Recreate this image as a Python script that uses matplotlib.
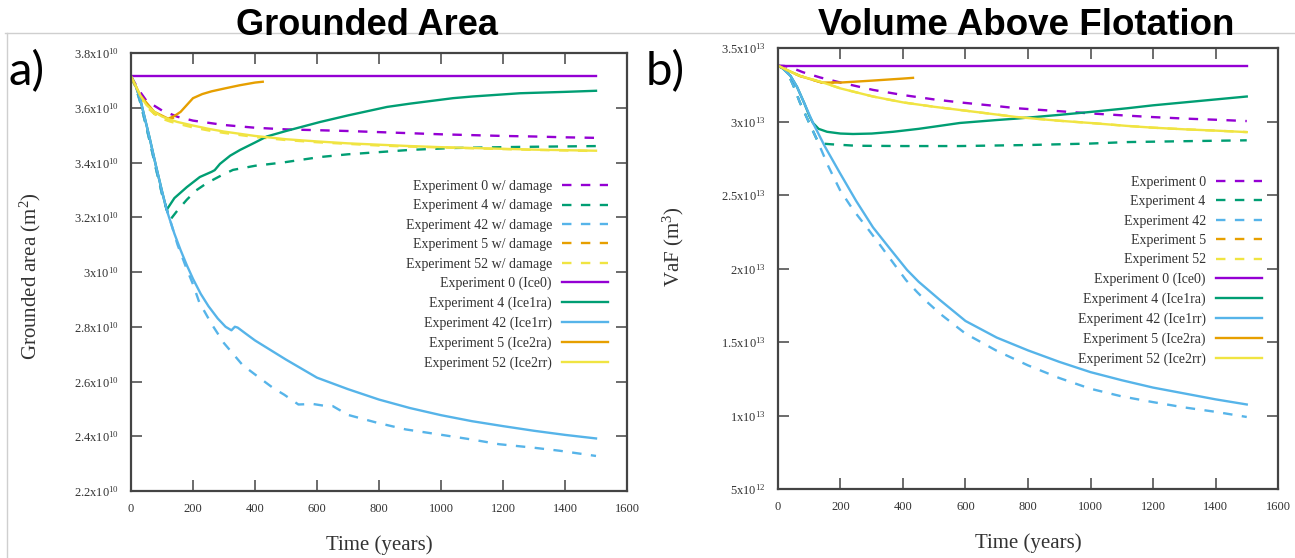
import matplotlib
matplotlib.use("Agg")
import matplotlib.pyplot as plt
from matplotlib.lines import Line2D

plt.rcParams['mathtext.fontset'] = 'custom'
plt.rcParams['mathtext.rm'] = 'Liberation Serif'
plt.rcParams['mathtext.it'] = 'Liberation Serif:italic'

# colours (gnuplot default set)
PURPLE = '#9400d3'
GREEN = '#009e73'
BLUE = '#56b4e9'
ORANGE = '#e69f00'
YELLOW = '#f0e442'

# ---------------- panel a: grounded area (x 1e10 m^2) ----------------
a_t_exp0 = [0, 1500]
a_v_exp0 = [3.715, 3.715]

a_t_exp0_dmg = [0, 25, 50, 100, 150, 200, 300, 400, 500, 600, 700, 800, 900, 1000, 1100, 1200, 1300, 1400, 1500]
a_v_exp0_dmg = [3.715, 3.665, 3.625, 3.59, 3.567, 3.553, 3.537, 3.527, 3.521, 3.518, 3.515, 3.511, 3.507, 3.503, 3.500, 3.497, 3.495, 3.492, 3.49]

a_t_exp52 = [0, 15, 30, 50, 75, 100, 125, 150, 200, 250, 300, 400, 500, 600, 700, 800, 900, 1000, 1100, 1200, 1300, 1400, 1500]
a_v_exp52 = [3.715, 3.68, 3.645, 3.61, 3.585, 3.568, 3.557, 3.548, 3.535, 3.523, 3.513, 3.497, 3.485, 3.477, 3.47, 3.465, 3.46, 3.456, 3.453, 3.45, 3.447, 3.445, 3.443]
a_v_exp52_dmg = [3.715, 3.675, 3.64, 3.603, 3.578, 3.56, 3.55, 3.542, 3.528, 3.517, 3.508, 3.493, 3.482, 3.474, 3.468, 3.462, 3.458, 3.455, 3.452, 3.449, 3.446, 3.444, 3.442]

a_t_exp5 = [0, 30, 75, 120, 140, 160, 180, 200, 230, 260, 300, 350, 400, 425]
a_v_exp5 = [3.715, 3.645, 3.585, 3.56, 3.57, 3.585, 3.61, 3.635, 3.65, 3.66, 3.67, 3.682, 3.692, 3.695]
a_t_exp5_dmg = [0, 30, 75, 120, 140, 160]
a_v_exp5_dmg = [3.715, 3.64, 3.578, 3.555, 3.565, 3.578]

a_t_exp4 = [0, 15, 30, 45, 60, 80, 100, 115, 140, 180, 222, 260, 270, 287, 320, 352, 400, 438, 500, 610, 700, 826, 900, 1039, 1100, 1255, 1400, 1500]
a_v_exp4 = [3.715, 3.68, 3.63, 3.56, 3.49, 3.39, 3.295, 3.227, 3.27, 3.31, 3.347, 3.366, 3.372, 3.395, 3.425, 3.446, 3.473, 3.495, 3.515, 3.548, 3.572, 3.603, 3.615, 3.635, 3.641, 3.653, 3.658, 3.662]
a_t_exp4_dmg = [0, 15, 30, 45, 60, 80, 100, 126, 150, 180, 210, 245, 290, 329, 400, 490, 610, 700, 826, 900, 1039, 1255, 1500]
a_v_exp4_dmg = [3.715, 3.675, 3.62, 3.55, 3.48, 3.38, 3.285, 3.19, 3.225, 3.264, 3.298, 3.325, 3.352, 3.373, 3.388, 3.40, 3.42, 3.43, 3.44, 3.446, 3.453, 3.457, 3.46]

a_t_exp42 = [0, 15, 30, 45, 60, 80, 100, 115, 140, 160, 180, 200, 225, 250, 280, 305, 324, 335, 344, 370, 400, 450, 500, 600, 700, 800, 900, 1000, 1100, 1200, 1300, 1400, 1500]
a_v_exp42 = [3.715, 3.68, 3.63, 3.56, 3.49, 3.39, 3.295, 3.227, 3.14, 3.08, 3.025, 2.975, 2.92, 2.875, 2.83, 2.80, 2.787, 2.80, 2.797, 2.775, 2.75, 2.715, 2.68, 2.614, 2.572, 2.534, 2.503, 2.477, 2.455, 2.437, 2.42, 2.405, 2.392]
a_t_exp42_dmg = [0, 15, 30, 45, 60, 80, 100, 126, 150, 180, 200, 220, 260, 300, 324, 360, 416, 460, 494, 540, 586, 620, 651, 700, 795, 886, 991, 1100, 1187, 1300, 1383, 1500]
a_v_exp42_dmg = [3.715, 3.675, 3.62, 3.55, 3.48, 3.38, 3.285, 3.19, 3.10, 3.01, 2.955, 2.89, 2.81, 2.74, 2.708, 2.66, 2.612, 2.575, 2.552, 2.516, 2.518, 2.512, 2.51, 2.478, 2.449, 2.425, 2.407, 2.388, 2.371, 2.358, 2.347, 2.328]

a_yticks = [2.2, 2.4, 2.6, 2.8, 3.0, 3.2, 3.4, 3.6, 3.8]
a_yticklabels = ['2.2x10$^{10}$', '2.4x10$^{10}$', '2.6x10$^{10}$', '2.8x10$^{10}$', '3x10$^{10}$',
                 '3.2x10$^{10}$', '3.4x10$^{10}$', '3.6x10$^{10}$', '3.8x10$^{10}$']

# ---------------- panel b: volume above flotation (x 1e13 m^3) ----------------
b_t_exp0 = [0, 1500]
b_v_exp0 = [3.38, 3.38]
b_t_exp0_dmg = [0, 20, 38, 80, 134, 200, 304, 400, 500, 582, 700, 765, 900, 1000, 1117, 1200, 1300, 1400, 1500]
b_v_exp0_dmg = [3.38, 3.378, 3.37, 3.335, 3.30, 3.265, 3.215, 3.18, 3.15, 3.13, 3.105, 3.09, 3.07, 3.055, 3.04, 3.03, 3.02, 3.012, 3.003]

b_t_exp52 = [0, 29, 70, 144, 200, 304, 400, 500, 614, 765, 900, 1000, 1117, 1200, 1300, 1400, 1500]
b_v_exp52 = [3.38, 3.35, 3.31, 3.265, 3.225, 3.17, 3.13, 3.10, 3.07, 3.03, 3.005, 2.99, 2.97, 2.958, 2.947, 2.938, 2.928]
b_v_exp52_dmg = [3.38, 3.35, 3.31, 3.265, 3.225, 3.17, 3.13, 3.10, 3.07, 3.03, 3.005, 2.99, 2.97, 2.958, 2.947, 2.938, 2.928]

b_t_exp5 = [0, 29, 70, 140, 200, 240, 300, 350, 400, 432]
b_v_exp5 = [3.38, 3.35, 3.31, 3.265, 3.265, 3.27, 3.278, 3.285, 3.292, 3.297]
b_t_exp5_dmg = [0, 29, 70, 140, 180]
b_v_exp5_dmg = [3.38, 3.35, 3.31, 3.265, 3.265]

b_t_exp42 = [0, 16, 40, 61, 85, 112, 150, 198, 250, 304, 360, 413, 450, 518, 600, 700, 800, 900, 1000, 1100, 1200, 1300, 1400, 1500]
b_v_exp42 = [3.38, 3.36, 3.31, 3.235, 3.12, 2.99, 2.83, 2.65, 2.46, 2.28, 2.13, 1.99, 1.91, 1.786, 1.643, 1.53, 1.443, 1.365, 1.295, 1.24, 1.19, 1.15, 1.11, 1.075]
b_t_exp42_dmg = [0, 15, 29, 50, 70, 100, 125, 160, 198, 240, 284, 330, 368, 410, 445, 473, 520, 600, 700, 800, 900, 1000, 1100, 1200, 1300, 1400, 1500]
b_v_exp42_dmg = [3.38, 3.365, 3.34, 3.24, 3.13, 2.99, 2.875, 2.70, 2.535, 2.40, 2.28, 2.15, 2.04, 1.92, 1.84, 1.78, 1.69, 1.557, 1.44, 1.341, 1.255, 1.182, 1.13, 1.091, 1.055, 1.025, 0.99]

b_t_exp4 = [0, 16, 40, 61, 85, 100, 112, 130, 157, 200, 240, 300, 368, 450, 500, 582, 700, 765, 900, 1000, 1117, 1200, 1300, 1400, 1500]
b_v_exp4 = [3.38, 3.36, 3.31, 3.235, 3.12, 3.04, 2.99, 2.95, 2.93, 2.918, 2.915, 2.918, 2.93, 2.95, 2.965, 2.99, 3.01, 3.02, 3.045, 3.065, 3.09, 3.11, 3.13, 3.15, 3.17]
b_t_exp4_dmg = [0, 15, 29, 50, 70, 100, 125, 140, 170, 250, 400, 582, 800, 1000, 1117, 1300, 1500]
b_v_exp4_dmg = [3.38, 3.365, 3.34, 3.24, 3.13, 2.99, 2.875, 2.85, 2.845, 2.835, 2.833, 2.833, 2.84, 2.85, 2.86, 2.866, 2.872]

b_yticks = [0.5, 1.0, 1.5, 2.0, 2.5, 3.0, 3.5]
b_yticklabels = ['5x10$^{12}$', '1x10$^{13}$', '1.5x10$^{13}$', '2x10$^{13}$', '2.5x10$^{13}$',
                 '3x10$^{13}$', '3.5x10$^{13}$']

xticks = [0, 200, 400, 600, 800, 1000, 1200, 1400, 1600]

a_labels = ["Experiment 0 w/ damage", "Experiment 4 w/ damage", "Experiment 42 w/ damage",
            "Experiment 5 w/ damage", "Experiment 52 w/ damage",
            "Experiment 0 (Ice0)", "Experiment 4 (Ice1ra)", "Experiment 42 (Ice1rr)",
            "Experiment 5 (Ice2ra)", "Experiment 52 (Ice2rr)"]
b_labels = ["Experiment 0", "Experiment 4", "Experiment 42", "Experiment 5", "Experiment 52",
            "Experiment 0 (Ice0)", "Experiment 4 (Ice1ra)", "Experiment 42 (Ice1rr)",
            "Experiment 5 (Ice2ra)", "Experiment 52 (Ice2rr)"]

SERIF = 'Liberation Serif'
TXT = '#333333'
W, H = 1295, 558


def style_axes(ax, yticks, yticklabels, ylim):
    ax.set_xlim(0, 1600)
    ax.set_ylim(*ylim)
    ax.set_xticks(xticks)
    ax.set_xticklabels([str(x) for x in xticks], family=SERIF, fontsize=9, color=TXT)
    ax.set_yticks(yticks)
    ax.set_yticklabels(yticklabels, family=SERIF, fontsize=9, color=TXT)
    ax.tick_params(direction='in', length=8, width=1.1, color='#444444',
                   top=True, right=True, pad=9)
    for s in ax.spines.values():
        s.set_linewidth(1.6)
        s.set_color('#444444')


def draw_panel(ax, series, labels, legend_anchor):
    handles = []
    for t, v, c, dashed in series:
        if dashed:
            ln, = ax.plot(t, v, color=c, lw=1.7, dashes=(4, 4))
        else:
            ln, = ax.plot(t, v, color=c, lw=1.7)
        handles.append(ln)
    leg = ax.legend(handles, labels, loc='upper right', bbox_to_anchor=legend_anchor,
                    frameon=False, markerfirst=False, borderpad=0, borderaxespad=0,
                    handlelength=3.3, handletextpad=0.75, labelspacing=0.46,
                    prop={'family': SERIF, 'size': 10})
    for txt in leg.get_texts():
        txt.set_color(TXT)
    # right-align the labels like gnuplot does
    for col in leg._legend_handle_box.get_children():
        col.align = 'right'


fig = plt.figure(figsize=(W / 100, H / 100), dpi=100)

ax_a = fig.add_axes([131 / W, 1 - 491 / H, (627 - 131) / W, (491 - 53) / H])
ax_b = fig.add_axes([778 / W, 1 - 489 / H, (1278 - 778) / W, (489 - 48) / H])

series_a = [
    (a_t_exp0_dmg, a_v_exp0_dmg, PURPLE, True),
    (a_t_exp4_dmg, a_v_exp4_dmg, GREEN, True),
    (a_t_exp42_dmg, a_v_exp42_dmg, BLUE, True),
    (a_t_exp5_dmg, a_v_exp5_dmg, ORANGE, True),
    (a_t_exp52, a_v_exp52_dmg, YELLOW, True),
    (a_t_exp0, a_v_exp0, PURPLE, False),
    (a_t_exp4, a_v_exp4, GREEN, False),
    (a_t_exp42, a_v_exp42, BLUE, False),
    (a_t_exp5, a_v_exp5, ORANGE, False),
    (a_t_exp52, a_v_exp52, YELLOW, False),
]
series_b = [
    (b_t_exp0_dmg, b_v_exp0_dmg, PURPLE, True),
    (b_t_exp4_dmg, b_v_exp4_dmg, GREEN, True),
    (b_t_exp42_dmg, b_v_exp42_dmg, BLUE, True),
    (b_t_exp5_dmg, b_v_exp5_dmg, ORANGE, True),
    (b_t_exp52, b_v_exp52_dmg, YELLOW, True),
    (b_t_exp0, b_v_exp0, PURPLE, False),
    (b_t_exp4, b_v_exp4, GREEN, False),
    (b_t_exp42, b_v_exp42, BLUE, False),
    (b_t_exp5, b_v_exp5, ORANGE, False),
    (b_t_exp52, b_v_exp52, YELLOW, False),
]

draw_panel(ax_a, series_a, a_labels, (0.962, 0.71))
draw_panel(ax_b, series_b, b_labels, (0.968, 0.71))

style_axes(ax_a, a_yticks, a_yticklabels, (2.2, 3.8))
style_axes(ax_b, b_yticks, b_yticklabels, (0.5, 3.5))

for ax, ylab in [(ax_a, 'Grounded area (m$^2$)'), (ax_b, 'VaF (m$^3$)')]:
    ax.set_xlabel('Time (years)', family=SERIF, fontsize=15, color=TXT)
    ax.set_ylabel(ylab, family=SERIF, fontsize=15, color=TXT)
    ax.xaxis.set_label_coords(0.5, -0.1)
ax_a.yaxis.set_label_coords(-0.178, 0.49)
ax_b.yaxis.set_label_coords(-0.184, 0.55)

# titles and panel letters
fig.text(367 / W, 1 - 35 / H, 'Grounded Area', ha='center', va='baseline',
         family='Liberation Sans', weight='bold', fontsize=26)
fig.text(1026 / W, 1 - 35 / H, 'Volume Above Flotation', ha='center', va='baseline',
         family='Liberation Sans', weight='bold', fontsize=26.5)
fig.text(8 / W, 1 - 50 / H, 'a)', ha='left', va='top', family='Lato', fontsize=34)
fig.text(646 / W, 1 - 50 / H, 'b)', ha='left', va='top', family='Lato', fontsize=34)

# light frame lines of the composite
fig.add_artist(Line2D([5 / W, 1], [1 - 33 / H, 1 - 33 / H], color='#cfcfcf', lw=1))
fig.add_artist(Line2D([7 / W, 7 / W], [0, 1 - 33 / H], color='#cfcfcf', lw=1))

fig.savefig('out.png', dpi=100)
